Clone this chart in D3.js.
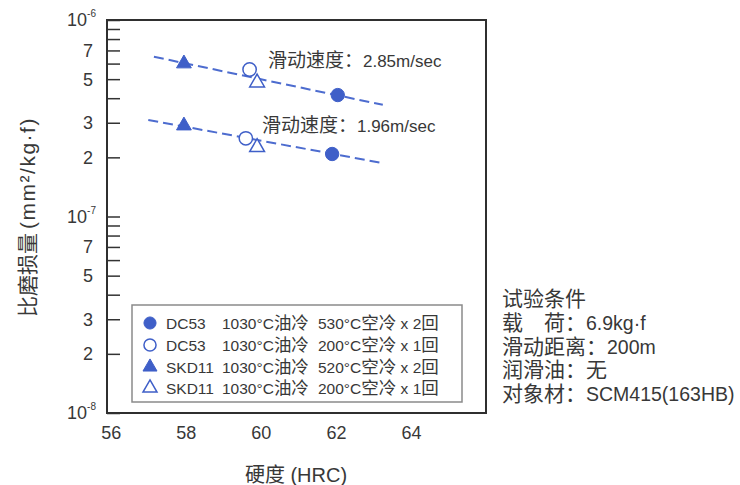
<!DOCTYPE html>
<html>
<head>
<meta charset="utf-8">
<script src="https://cdn.jsdelivr.net/npm/d3@7"></script>
<style>
  html, body { margin: 0; padding: 0; background: #fff; }
  svg { display: block; }
  text { fill: #383838; }
</style>
</head>
<body>
<svg id="chart" width="740" height="485"></svg>
<script>
// ---------------- data ----------------
const materials = ["DC53", "DC53", "SKD11", "SKD11"];
const quenchText = ["1030°C油冷", "1030°C油冷", "1030°C油冷", "1030°C油冷"];
const temperText = ["530°C空冷 x 2回", "200°C空冷 x 1回", "520°C空冷 x 2回", "200°C空冷 x 1回"];
const markerFilled = [true, false, true, false];
const markerShape = ["circle", "circle", "triangle", "triangle"];

// sliding speed 2.85 m/sec
const hardness285 = [62.05, 59.7, 57.95, 59.9];
const wear285 = [4.15e-7, 5.6e-7, 6.0e-7, 4.8e-7];
// sliding speed 1.96 m/sec
const hardness196 = [61.9, 59.6, 57.95, 59.9];
const wear196 = [2.08e-7, 2.5e-7, 2.9e-7, 2.25e-7];

// dashed trend lines
const trend285X = [57.15, 63.25];
const trend285Y = [6.5e-7, 3.7e-7];
const trend196X = [57.0, 63.25];
const trend196Y = [3.1e-7, 1.87e-7];

const speedLabels = ["滑动速度：2.85m/sec", "滑动速度：1.96m/sec"];
const speedLabelPos = [[60.19, 5.77e-7], [60.03, 2.69e-7]]; // hardness, wear at text start/baseline

const xTicks = [56, 58, 60, 62, 64];
const yLabelValues = [1e-8, 2e-8, 3e-8, 5e-8, 7e-8, 1e-7, 2e-7, 3e-7, 5e-7, 7e-7, 1e-6];
const yTickValues = [1e-8,2e-8,3e-8,4e-8,5e-8,6e-8,7e-8,8e-8,9e-8,1e-7,2e-7,3e-7,4e-7,5e-7,6e-7,7e-7,8e-7,9e-7,1e-6];

const xTitle = "硬度 (HRC)";
const yTitleCJK = "比磨损量";
const yTitleUnit = "(mm²/kg·f)";

const conditions = ["试验条件", "载　荷：6.9kg·f", "滑动距离：200m", "润滑油：无", "对象材：SCM415(163HB)"];

// ---------------- drawing ----------------
const svg = d3.select("#chart");
const blue = "#3f5fc8";
const lineBlue = "#4d6ccf";
const latin = "'Liberation Sans', 'Noto Sans CJK SC', sans-serif";

const pL = 107, pR = 486, pT = 20, pB = 413;
const x = d3.scaleLinear().domain([55.9, 66]).range([pL, pR]);
const y = d3.scaleLog().domain([1e-8, 1e-6]).range([pB, pT]);

// text with CJK / Latin runs at their own sizes
const cjkRe = /[\u3000-\u9fff\uff00-\uffef]/;
function mixedText(g, tx, ty, str, cjkSize, latSize) {
  const t = g.append("text").attr("x", tx).attr("y", ty).attr("font-family", latin)
    .attr("font-size", latSize);
  const runs = str.match(/[\u3000-\u9fff\uff00-\uffef]+|[^\u3000-\u9fff\uff00-\uffef]+/g);
  runs.forEach(r => {
    const isCJK = cjkRe.test(r);
    t.append("tspan").attr("font-size", isCJK ? cjkSize : latSize).text(r);
  });
  return t;
}

// y ticks (inward)
const yAxis = d3.axisLeft(y).tickValues(yTickValues).tickSize(-13).tickFormat("");
const gy = svg.append("g").attr("transform", `translate(${pL},0)`).call(yAxis);
gy.select(".domain").remove();
gy.selectAll(".tick line").attr("stroke", "#333").attr("stroke-width", 1.5);

// y labels
const yl = svg.append("g").attr("font-family", latin).attr("font-size", 18);
yLabelValues.forEach(v => {
  const exp = Math.floor(Math.log10(v) + 1e-9);
  const mant = Math.round(v / Math.pow(10, exp));
  const t = yl.append("text").attr("y", y(v)).attr("dy", "0.36em").attr("text-anchor", "end");
  if (mant === 1) {
    t.attr("x", 96);
    t.append("tspan").text("10");
    t.append("tspan").attr("font-size", 10).attr("dy", "-0.9em").text(String(exp));
  } else {
    t.attr("x", 93).text(String(mant));
  }
});

// x axis labels
const xAxis = d3.axisBottom(x).tickValues(xTicks).tickSize(0).tickPadding(13).tickFormat(d3.format("d"));
const gx = svg.append("g").attr("transform", `translate(0,${pB})`).call(xAxis);
gx.select(".domain").remove();
gx.selectAll("text").attr("font-family", latin).attr("font-size", 18).attr("fill", "#383838");

// frame
svg.append("rect").attr("x", pL).attr("y", pT).attr("width", pR - pL).attr("height", pB - pT)
  .attr("fill", "none").attr("stroke", "#2f2f2f").attr("stroke-width", 2);

// trend lines
const line = d3.line().x(d => x(d[0])).y(d => y(d[1]));
[[trend285X, trend285Y], [trend196X, trend196Y]].forEach(([tx, ty]) => {
  svg.append("path").datum(tx.map((v, i) => [v, ty[i]])).attr("d", line)
    .attr("fill", "none").attr("stroke", lineBlue).attr("stroke-width", 2)
    .attr("stroke-dasharray", "10,5");
});

// markers
function symbolFor(shape, legend) {
  if (shape === "circle") return d3.symbol(d3.symbolCircle, legend ? 115 : 140)();
  return d3.symbol(d3.symbolTriangle, legend ? 85 : 95)();
}
function drawMarker(g, i, cx, cy, legend) {
  g.append("path").attr("d", symbolFor(markerShape[i], legend))
    .attr("transform", `translate(${cx},${cy})`)
    .attr("fill", markerFilled[i] ? blue : "#fff")
    .attr("stroke", blue).attr("stroke-width", markerFilled[i] ? 1 : 1.5);
}
const mg = svg.append("g");
[[hardness285, wear285], [hardness196, wear196]].forEach(([hx, wy]) => {
  hx.forEach((h, i) => drawMarker(mg, i, x(h), y(wy[i]), false));
});

// speed labels
speedLabels.forEach((s, i) => {
  mixedText(svg, x(speedLabelPos[i][0]), y(speedLabelPos[i][1]), s, 19, 17);
});

// legend
const lg = svg.append("g");
lg.append("rect").attr("x", 132).attr("y", 305).attr("width", 330).attr("height", 97)
  .attr("fill", "#fff").attr("stroke", "#8a8a8a").attr("stroke-width", 1.5);
const rowY = [323, 345, 367, 388];
materials.forEach((m, i) => {
  drawMarker(lg, i, 150, rowY[i], true);
  const by = rowY[i] + 6;
  mixedText(lg, 166, by, m, 17.5, 15.5);
  mixedText(lg, 222, by, quenchText[i], 17.5, 15.5);
  mixedText(lg, 318, by, temperText[i], 17.5, 15.5);
});

// axis titles
svg.append("text").attr("x", 296).attr("y", 475).attr("dy", "0.36em").attr("text-anchor", "middle")
  .attr("font-family", latin).attr("font-size", 20).text(xTitle);
const yt = svg.append("text").attr("transform", "translate(27,217) rotate(-90)")
  .attr("dy", "0.36em").attr("text-anchor", "middle").attr("font-family", latin).attr("font-size", 21);
yt.append("tspan").text(yTitleCJK);
yt.append("tspan").attr("dx", 4).attr("letter-spacing", 1.5).text(yTitleUnit);

// test conditions
conditions.forEach((c, i) => {
  mixedText(svg, 502, 306 + i * 23.75, c, 21, 19.5);
});
</script>
</body>
</html>
